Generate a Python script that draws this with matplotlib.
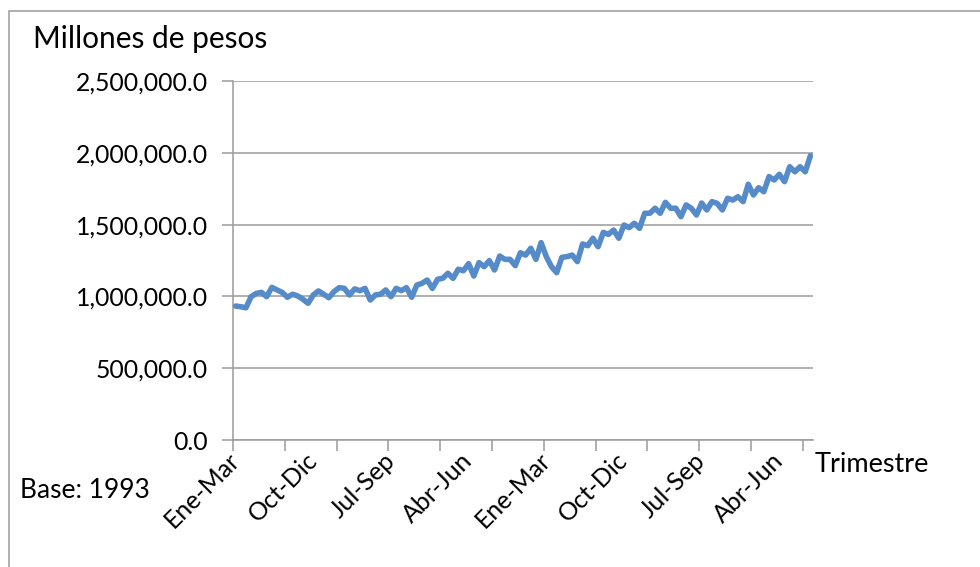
import numpy as np
import matplotlib.pyplot as plt
from matplotlib.patches import Rectangle
from matplotlib.ticker import FuncFormatter

# PIB trimestral, millones de pesos a precios de 1993 (1980 Ene-Mar .. 2007 Oct-Dic)
pib = [
    933e3, 928e3, 921e3, 998e3, 1021e3, 1028e3, 998e3, 1063e3,
    1045e3, 1028e3, 994e3, 1015e3, 1003e3, 980e3, 952e3, 1010e3,
    1038e3, 1015e3, 991e3, 1033e3, 1061e3, 1056e3, 1010e3, 1052e3,
    1040e3, 1056e3, 975e3, 1010e3, 1015e3, 1045e3, 998e3, 1056e3,
    1040e3, 1061e3, 994e3, 1079e3, 1091e3, 1114e3, 1056e3, 1119e3,
    1126e3, 1161e3, 1126e3, 1189e3, 1179e3, 1228e3, 1142e3, 1235e3,
    1207e3, 1249e3, 1184e3, 1281e3, 1258e3, 1258e3, 1214e3, 1304e3,
    1288e3, 1335e3, 1258e3, 1374e3, 1277e3, 1207e3, 1165e3, 1272e3,
    1277e3, 1288e3, 1242e3, 1365e3, 1353e3, 1405e3, 1346e3, 1446e3,
    1432e3, 1462e3, 1405e3, 1497e3, 1479e3, 1509e3, 1474e3, 1579e3,
    1579e3, 1614e3, 1579e3, 1655e3, 1614e3, 1614e3, 1555e3, 1637e3,
    1614e3, 1567e3, 1650e3, 1602e3, 1660e3, 1648e3, 1602e3, 1683e3,
    1671e3, 1694e3, 1660e3, 1781e3, 1706e3, 1757e3, 1729e3, 1834e3,
    1811e3, 1850e3, 1799e3, 1903e3, 1868e3, 1903e3, 1868e3, 1980e3,
]
trimestres = ["Ene-Mar", "Abr-Jun", "Jul-Sep", "Oct-Dic"]
intervalo_etiquetas = 15
intervalo_marcas = 10
y_ticks = [0, 500000, 1000000, 1500000, 2000000, 2500000]

plt.rcParams['font.family'] = ['Lato', 'DejaVu Sans']

W, H = 980, 567
fig = plt.figure(figsize=(W / 100, H / 100), dpi=100)
ax = fig.add_axes([233 / W, 1 - 440 / H, 580 / W, 359 / H])

n = len(pib)
x = np.arange(n)
ax.plot(x, pib, color='#558BC8', lw=4.0, solid_joinstyle='round',
        solid_capstyle='round', zorder=3)

ax.set_xlim(-0.5, n - 0.5)
ax.set_ylim(0, 2500000)

gris = '#9a9a9a'
ax.set_yticks(y_ticks)
ax.yaxis.set_major_formatter(FuncFormatter(lambda v, p: f"{v:,.1f}"))
ax.grid(axis='y', color=gris, lw=1.1, zorder=1)
ax.tick_params(axis='y', length=8, width=1.1, color=gris, labelsize=17.8, pad=10)

# marcas entre categorias y etiquetas rotadas
pos_marcas = np.arange(0, n, intervalo_marcas) - 0.5
ax.set_xticks(pos_marcas)
ax.set_xticklabels([''] * len(pos_marcas))
ax.tick_params(axis='x', which='major', length=8, width=1.1, color=gris)
pos_etq = np.arange(0, n, intervalo_etiquetas)
ax.set_xticks(pos_etq, minor=True)
ax.set_xticklabels([trimestres[i % 4] for i in pos_etq], minor=True,
                   rotation=45, ha='right', va='center', rotation_mode='anchor',
                   fontsize=18)
ax.tick_params(axis='x', which='minor', length=0, pad=12)

for s in ['top', 'right']:
    ax.spines[s].set_visible(False)
for s in ['left', 'bottom']:
    ax.spines[s].set_color(gris)
    ax.spines[s].set_linewidth(1.1)

fig.text(33 / W, 1 - 39 / H, "Millones de pesos", fontsize=21.5, va='center', ha='left')
fig.text(20 / W, 1 - 490 / H, "Base: 1993", fontsize=19, va='center', ha='left')
fig.text(815 / W, 1 - 465 / H, "Trimestre", fontsize=19.5, va='center', ha='left')

# marco exterior
fig.patches.append(Rectangle((9 / W, -0.05), 1.05, 1 - 11 / H + 0.05,
                             transform=fig.transFigure, fill=False,
                             edgecolor=gris, lw=1.1))

fig.savefig('out.png', dpi=100)
